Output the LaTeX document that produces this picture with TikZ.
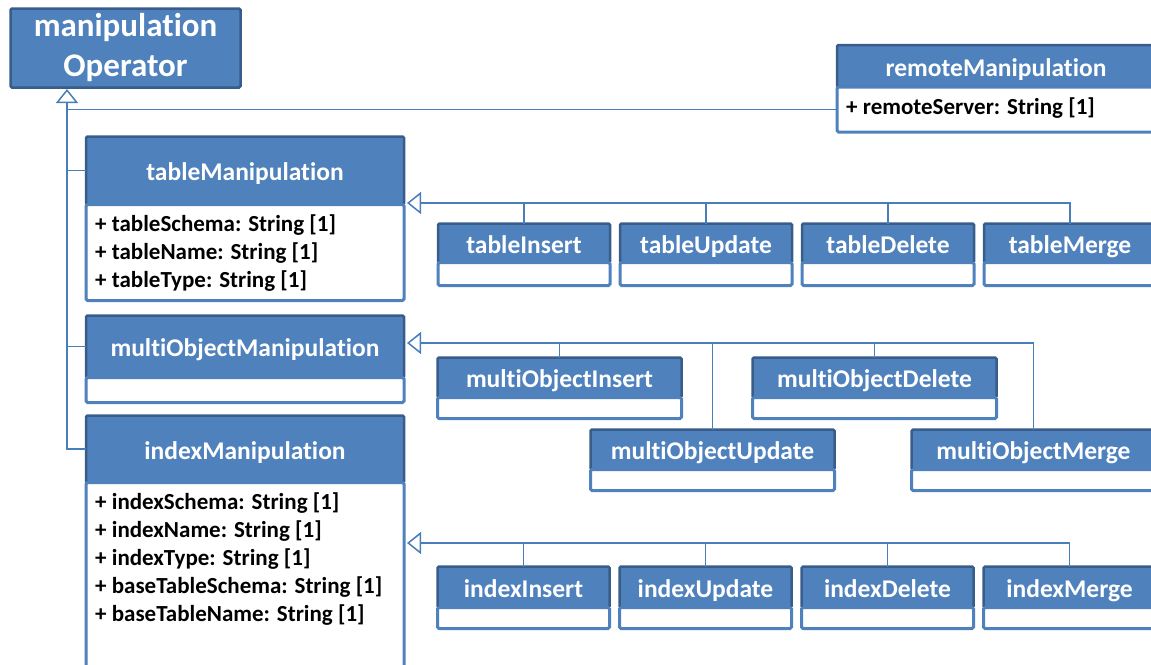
\documentclass[tikz,border=0pt]{standalone}
\usepackage{fontspec}
\setmainfont{Carlito}[Ligatures=NoCommon]
\usetikzlibrary{arrows.meta}
\definecolor{cblue}{HTML}{4F81BD}
\definecolor{cdark}{HTML}{385D8A}
\definecolor{cline}{HTML}{4A7EBB}
\begin{document}
\begin{tikzpicture}[x=1pt,y=-1pt,
  hdrbase/.style={rectangle, fill=cblue, draw=cdark, line width=2.5pt, text=white,
    inner sep=0pt, outer sep=0pt, rounded corners=1.5pt},
  hdr/.style={hdrbase, font=\fontsize{25.5}{30}\selectfont\bfseries, text height=20pt, text depth=0pt},
  cmp/.style={rectangle, fill=white, draw=cblue, line width=3pt, inner sep=0pt, outer sep=0pt,
    rounded corners=1.5pt, anchor=north},
  attr/.style={font=\fontsize{23}{28}\selectfont\bfseries, align=left, anchor=north west, inner sep=0pt},
  conn/.style={draw=cline, line width=1.5pt},
  gen/.style={conn, -{Triangle[open, length=14pt, width=22pt, fill=white]}}
]
\useasboundingbox (0,0) rectangle (1151,664);
\clip (0,0) rectangle (1151,664);

% top class
\node[hdrbase, minimum width=230pt, minimum height=79pt, align=center,
  font=\fontsize{33}{40}\selectfont\bfseries] (mop) at (125.5,48) {manipulation\\Operator};

% remoteManipulation
\node[hdr, minimum width=318pt, minimum height=42pt] (rm) at (996,66) {remoteManipulation};
\node[cmp, minimum width=318pt, minimum height=45pt] (rmc) at (rm.south) {};
\node[attr] (rma) at ([xshift=9pt,yshift=-11pt]rmc.north west) {+ remoteServer: String [1]};

% tableManipulation
\node[hdr, minimum width=318pt, minimum height=68pt] (tm) at (245,170.5) {tableManipulation};
\node[cmp, minimum width=318pt, minimum height=96pt] (tmc) at (tm.south) {};
\node[attr] (tma) at ([xshift=9pt,yshift=-10pt]tmc.north west) {+ tableSchema: String [1]\\+ tableName: String [1]\\+ tableType: String [1]};

% multiObjectManipulation
\node[hdr, minimum width=318pt, minimum height=62pt] (mo) at (245,346.5) {multiObjectManipulation};
\node[cmp, minimum width=318pt, minimum height=25pt] (moc) at (mo.south) {};

% indexManipulation
\node[hdr, minimum width=318pt, minimum height=67pt] (im) at (245,449) {indexManipulation};
\node[cmp, minimum width=318pt, minimum height=220pt] (imc) at (im.south) {};
\node[attr] (ima) at ([xshift=9pt,yshift=-10pt]imc.north west) {+ indexSchema: String [1]\\+ indexName: String [1]\\+ indexType: String [1]\\+ baseTableSchema: String [1]\\+ baseTableName: String [1]};

% table children
\foreach \n/\t/\x in {ti/tableInsert/524, tu/tableUpdate/706, td/tableDelete/888, tg/tableMerge/1070}{
  \node[hdr, minimum width=172pt, minimum height=39pt] (\n) at (\x,243) {\t};
  \node[cmp, minimum width=172pt, minimum height=23pt] (\n c) at (\n.south) {};
}
% multiObject children
\foreach \n/\t/\x/\y in {moi/multiObjectInsert/559.5/377.5, mod/multiObjectDelete/874.5/377.5,
  mou/multiObjectUpdate/712.5/449.5, mog/multiObjectMerge/1033.5/449.5}{
  \node[hdr, minimum width=244pt, minimum height=40pt] (\n) at (\x,\y) {\t};
  \node[cmp, minimum width=244pt, minimum height=21pt] (\n c) at (\n.south) {};
}
% index children
\foreach \n/\t/\x in {ii/indexInsert/523.5, iu/indexUpdate/705.5, id/indexDelete/887.5, ig/indexMerge/1069.5}{
  \node[hdr, minimum width=172pt, minimum height=41pt] (\n) at (\x,587) {\t};
  \node[cmp, minimum width=172pt, minimum height=21pt] (\n c) at (\n.south) {};
}

% main generalization tree
\coordinate (optip) at (67,89);
\draw[gen] (im.west) -| (optip);
\draw[conn] (tm.west) -- (tm.west -| optip);
\draw[conn] (mo.west) -- (mo.west -| optip);
\draw[conn] (rmc.west) -- (rmc.west -| optip);

% table bus
\coordinate (tbus) at (407,203);
\draw[gen] (tg.north) |- (tbus);
\foreach \n in {ti,tu,td}{\draw[conn] (\n.north) -- (\n.north |- tbus);}

% multiObject bus
\coordinate (mbus) at (407,343);
\draw[gen] (mog.north) |- (mbus);
\foreach \n in {moi,mod,mou}{\draw[conn] (\n.north) -- (\n.north |- mbus);}

% index bus
\coordinate (ibus) at (407,543);
\draw[gen] (ig.north) |- (ibus);
\foreach \n in {ii,iu,id}{\draw[conn] (\n.north) -- (\n.north |- ibus);}
\end{tikzpicture}
\end{document}
